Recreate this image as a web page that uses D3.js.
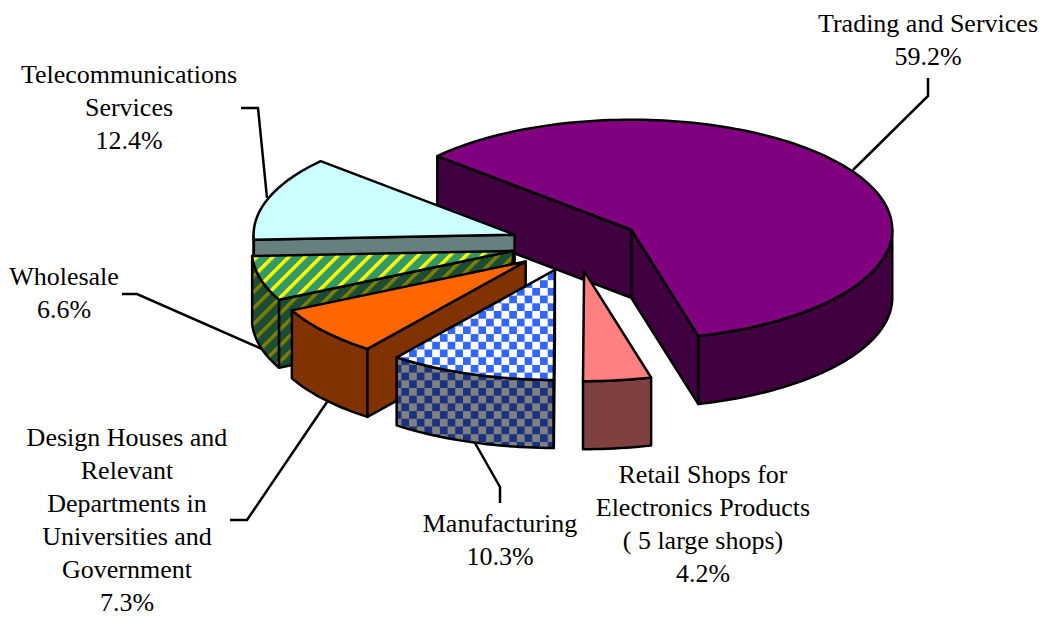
<!DOCTYPE html>
<html>
<head>
<meta charset="utf-8">
<script src="https://cdnjs.cloudflare.com/ajax/libs/d3/7.8.5/d3.min.js"></script>
<style>
    html, body { margin: 0; padding: 0; background: #fff; }
    svg { display: block; }
    text { font-family: "Liberation Serif", serif; font-size: 26px; fill: #000; }
</style>
</head>
<body>
<script>
// pie order, clockwise from the back left edge of the big slice
const categories = ['Trading and Services', 'Retail Shops for Electronics Products ( 5 large shops)', 'Manufacturing',
    'Design Houses and Relevant Departments in Universities and Government', 'Wholesale', 'Telecommunications Services'];
const shares = [59.2, 4.2, 10.3, 7.3, 6.6, 12.4];
const labelLines = [
    ['Trading and Services'],
    ['Retail Shops for', 'Electronics Products', '( 5 large shops)'],
    ['Manufacturing'],
    ['Design Houses and', 'Relevant', 'Departments in', 'Universities and', 'Government'],
    ['Wholesale'],
    ['Telecommunications', 'Services']
];
const topFills = ['#800080', '#ff8080', 'url(#checkTop)', '#ff6600', 'url(#stripeTop)', '#ccffff'];
const wallFills = ['#400040', '#804040', 'url(#checkWall)', '#803300', 'url(#stripeWall)', '#668080'];

const width = 1047,
    height = 617,
    cx = 575.8,
    cy = 244,
    rx = 261,
    ry = 110,
    depth = 68,
    explode = 65,
    lineHeight = 33,
    rad = Math.PI / 180;

// where each label block sits: centre x and first baseline
const labelPos = [[928, 32], [703, 483], [500, 532], [127, 446], [64, 285], [129, 83]];
const leaders = [
    [[853, 170], [928, 96], [928, 78]],
    null,
    [[475, 443], [500, 487], [500, 503]],
    [[327, 402], [247, 520], [230, 520]],
    [[262, 349], [137, 294], [122, 294]],
    [[267, 198], [258, 108], [241, 108]]
];

const svg = d3.select('body').append('svg')
    .attr('width', width)
    .attr('height', height);

const defs = svg.append('defs');

function addChecker(id, back, front) {
    const size = 7.7;
    const p = defs.append('pattern')
        .attr('id', id)
        .attr('patternUnits', 'userSpaceOnUse')
        .attr('x', 1)
        .attr('y', 3)
        .attr('width', size * 2)
        .attr('height', size * 2);
    p.append('rect').attr('width', size * 2).attr('height', size * 2).attr('fill', back);
    p.append('rect').attr('width', size).attr('height', size).attr('fill', front);
    p.append('rect').attr('x', size).attr('y', size).attr('width', size).attr('height', size).attr('fill', front);
}

function addStripes(id, back, front) {
    const p = defs.append('pattern')
        .attr('id', id)
        .attr('patternUnits', 'userSpaceOnUse')
        .attr('width', 11.3)
        .attr('height', 11.3)
        .attr('patternTransform', 'rotate(45)');
    p.append('rect').attr('width', 11.3).attr('height', 11.3).attr('fill', back);
    p.append('rect').attr('width', 3.4).attr('height', 11.3).attr('fill', front);
}

addChecker('checkTop', '#ffffff', '#3366ff');
addChecker('checkWall', '#808080', '#1a3380');
addStripes('stripeTop', '#339966', '#ffff00');
addStripes('stripeWall', '#1a4d33', '#808000');

const slices = d3.pie()
    .sort(null)
    .value(d => d)
    .startAngle(-48 * rad)
    .endAngle(312 * rad)(shares);

const line = d3.line();

// leader lines go under the slices
svg.append('g').selectAll('path')
    .data(leaders.filter(d => d))
    .join('path')
    .attr('d', d => line(d))
    .attr('fill', 'none')
    .attr('stroke', '#000')
    .attr('stroke-width', 2.5);

function arcPoints(x0, y0, a0, a1, dy) {
    const n = Math.max(2, Math.ceil((a1 - a0) / (1.5 * rad)));
    return d3.range(n + 1).map(i => {
        const a = a0 + (a1 - a0) * i / n;
        return [x0 + rx * Math.sin(a), y0 - ry * Math.cos(a) + dy];
    });
}

function radialWall(x0, y0, a) {
    const rim = [x0 + rx * Math.sin(a), y0 - ry * Math.cos(a)];
    return [[x0, y0], rim, [rim[0], rim[1] + depth], [x0, y0 + depth]];
}

// back to front, so later slices cover the hidden parts of earlier ones
const drawOrder = [0, 5, 4, 3, 2, 1];

drawOrder.forEach(i => {
    const s = slices[i];
    const mid = (s.startAngle + s.endAngle) / 2;
    const x0 = cx + explode * Math.sin(mid);
    const y0 = cy - explode * (ry / rx) * Math.cos(mid);
    const g = svg.append('g')
        .attr('stroke', '#000')
        .attr('stroke-width', 2.5)
        .attr('stroke-linejoin', 'round');

    // only the walls facing the viewer are drawn
    const walls = [];
    const from = Math.max(s.startAngle, 90 * rad),
        to = Math.min(s.endAngle, 270 * rad);
    if (to > from) {
        const upper = arcPoints(x0, y0, from, to, 0);
        const lower = arcPoints(x0, y0, from, to, depth).reverse();
        walls.push(upper.concat(lower));
    }
    if (Math.sin(s.startAngle) < -1e-6) walls.push(radialWall(x0, y0, s.startAngle));
    if (Math.sin(s.endAngle) > 1e-6) walls.push(radialWall(x0, y0, s.endAngle));

    g.selectAll('path.wall')
        .data(walls)
        .join('path')
        .attr('class', 'wall')
        .attr('d', d => line(d) + 'Z')
        .attr('fill', wallFills[i]);

    g.append('path')
        .attr('class', 'top')
        .attr('d', line([[x0, y0]].concat(arcPoints(x0, y0, s.startAngle, s.endAngle, 0))) + 'Z')
        .attr('fill', topFills[i]);
});

const labels = svg.append('g').attr('text-anchor', 'middle');

labelLines.forEach((lines, i) => {
    const all = lines.concat(d3.format('.1f')(shares[i]) + '%');
    const t = labels.append('text');
    t.selectAll('tspan')
        .data(all)
        .join('tspan')
        .attr('x', labelPos[i][0])
        .attr('y', (d, j) => labelPos[i][1] + j * lineHeight)
        .text(d => d);
});
</script>
</body>
</html>
